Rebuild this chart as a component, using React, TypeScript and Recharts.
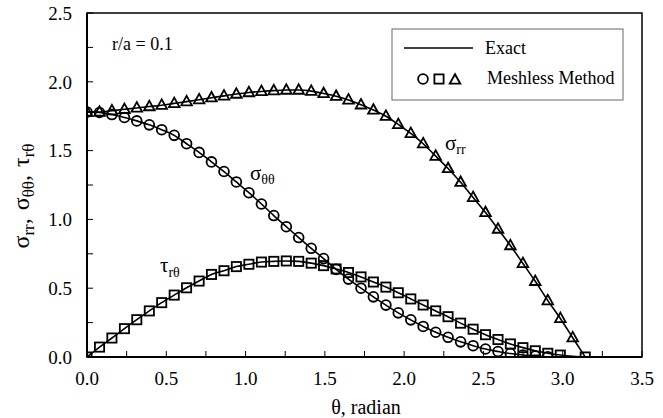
import React from 'react';
import { LineChart, Line, XAxis, YAxis, ReferenceArea, Customized } from 'recharts';

// theta, radian (41 stations from 0 to pi)
const theta = [
  0.0, 0.079, 0.157, 0.236, 0.314, 0.393, 0.471, 0.55, 0.628, 0.707, 0.785,
  0.864, 0.942, 1.021, 1.1, 1.178, 1.257, 1.335, 1.414, 1.492, 1.571,
  1.649, 1.728, 1.806, 1.885, 1.963, 2.042, 2.12, 2.199, 2.277, 2.356,
  2.435, 2.513, 2.592, 2.67, 2.749, 2.827, 2.906, 2.985, 3.063, 3.142,
];

// exact solution
const exactSrr = [
  1.78, 1.78, 1.79, 1.8, 1.81, 1.82, 1.83, 1.843, 1.856, 1.87, 1.884,
  1.898, 1.911, 1.922, 1.93, 1.936, 1.94, 1.94, 1.932, 1.915, 1.895,
  1.868, 1.833, 1.795, 1.75, 1.69, 1.625, 1.55, 1.46, 1.37, 1.27,
  1.16, 1.05, 0.93, 0.81, 0.68, 0.55, 0.41, 0.28, 0.14, 0.0,
];
const exactStt = [
  1.78, 1.777, 1.762, 1.741, 1.716, 1.687, 1.652, 1.611, 1.55, 1.487, 1.418,
  1.348, 1.272, 1.194, 1.112, 1.028, 0.947, 0.868, 0.79, 0.715, 0.637,
  0.566, 0.5, 0.437, 0.377, 0.321, 0.27, 0.222, 0.18, 0.143, 0.11,
  0.082, 0.058, 0.04, 0.025, 0.014, 0.007, 0.002, 0.0, 0.0, 0.0,
];
const exactTrt = [
  0.0, 0.072, 0.138, 0.206, 0.271, 0.335, 0.395, 0.45, 0.503, 0.552, 0.6,
  0.627, 0.657, 0.674, 0.69, 0.695, 0.698, 0.695, 0.682, 0.664, 0.64,
  0.614, 0.582, 0.545, 0.508, 0.467, 0.422, 0.378, 0.335, 0.293, 0.246,
  0.202, 0.162, 0.127, 0.095, 0.068, 0.045, 0.027, 0.014, 0.005, 0.0,
];

// meshless method (null = no marker drawn)
const meshSrr = [
  1.78, 1.78, 1.79, 1.8, 1.81, 1.82, 1.83, 1.843, 1.856, 1.87, 1.884,
  1.898, 1.911, 1.922, 1.93, 1.936, 1.94, 1.94, 1.932, 1.915, 1.895,
  1.868, 1.833, 1.795, 1.75, 1.69, 1.625, 1.55, 1.46, 1.37, 1.27,
  1.16, 1.05, 0.93, 0.81, 0.68, 0.55, 0.41, 0.28, 0.14, null,
];
const meshStt = [
  1.78, 1.777, 1.762, 1.741, 1.716, 1.687, 1.652, 1.611, 1.55, 1.487, 1.418,
  1.348, 1.272, 1.194, 1.112, 1.028, 0.947, 0.868, 0.79, 0.715, 0.637,
  0.566, 0.5, 0.437, 0.377, 0.321, 0.27, 0.222, 0.18, 0.143, 0.11,
  0.082, 0.058, 0.04, 0.025, 0.014, 0.007, 0.002, null, null, null,
];
const meshTrt = [
  0.0, 0.072, 0.138, 0.206, 0.271, 0.335, 0.395, 0.45, 0.503, 0.552, 0.6,
  0.627, 0.657, 0.674, 0.69, 0.695, 0.698, 0.695, 0.682, 0.664, 0.64,
  0.614, 0.582, 0.545, 0.508, 0.467, 0.422, 0.378, 0.335, 0.293, 0.246,
  0.202, 0.162, 0.127, 0.095, 0.068, 0.045, 0.027, 0.014, null, 0.0,
];

const xTicks = [0, 0.25, 0.5, 0.75, 1, 1.25, 1.5, 1.75, 2, 2.25, 2.5, 2.75, 3, 3.25, 3.5];
const yTicks = [0, 0.25, 0.5, 0.75, 1, 1.25, 1.5, 1.75, 2, 2.25, 2.5];

const data = theta.map((t, i) => ({
  theta: t,
  srr: exactSrr[i],
  stt: exactStt[i],
  trt: exactTrt[i],
  mSrr: meshSrr[i],
  mStt: meshStt[i],
  mTrt: meshTrt[i],
}));

const FONT = 'Liberation Serif, serif';
const INK = '#000';

const fmtTick = (v: number) => (Math.round(v * 4) % 2 === 0 ? v.toFixed(1) : '');

type Shape = 'circle' | 'square' | 'triangle';

function marker(shape: Shape, cx: number, cy: number, key?: string | number) {
  const common = { fill: 'none', stroke: INK, strokeWidth: 1.8 };
  if (shape === 'circle') return <circle key={key} cx={cx} cy={cy} r={4.9} {...common} />;
  if (shape === 'square') return <rect key={key} x={cx - 4.6} y={cy - 4.6} width={9.2} height={9.2} {...common} />;
  return (
    <polygon
      key={key}
      points={`${cx},${cy - 5.8} ${cx - 5.3},${cy + 3.7} ${cx + 5.3},${cy + 3.7}`}
      {...common}
    />
  );
}

const dotFor = (shape: Shape) => (p: any) => {
  if (p.value == null || p.cx == null || p.cy == null) return <g key={`n-${shape}-${p.index}`} />;
  return marker(shape, p.cx, p.cy, `${shape}-${p.index}`);
};

function Overlay() {
  return (
    <g style={{ fontFamily: FONT }} fill={INK}>
      {/* legend */}
      <rect x={392} y={29} width={231} height={71} fill="#fff" stroke="#666" strokeWidth={1} />
      <line x1={404} y1={48} x2={473} y2={48} stroke={INK} strokeWidth={1.6} />
      <text x={485} y={54} fontSize={18}>Exact</text>
      {marker('circle', 423, 79)}
      {marker('square', 439, 79)}
      {marker('triangle', 455, 80)}
      <text x={487} y={84} fontSize={18}>Meshless Method</text>

      <text x={112} y={50} fontSize={18}>r/a = 0.1</text>

      <text x={250} y={180} fontSize={21}>
        σ<tspan fontSize={14} dy={4}>θθ</tspan>
      </text>
      <text x={445} y={150} fontSize={21}>
        σ<tspan fontSize={14} dy={4}>rr</tspan>
      </text>
      <text x={160} y={272} fontSize={21}>
        τ<tspan fontSize={14} dy={5}>rθ</tspan>
      </text>

      <text x={366} y={414} fontSize={20} textAnchor="middle">θ, radian</text>

      <text transform="translate(29,196) rotate(-90)" fontSize={24} textAnchor="middle">
        σ<tspan fontSize={17} dy={5}>rr</tspan>
        <tspan dy={-5}>,</tspan>
        <tspan dx={8}>σ</tspan>
        <tspan fontSize={17} dy={5}>θθ</tspan>
        <tspan dy={-5}>,</tspan>
        <tspan dx={8}>τ</tspan>
        <tspan fontSize={17} dy={5}>rθ</tspan>
      </text>
    </g>
  );
}

export default function App() {
  const tickStyle = { fontSize: 19, fill: INK, fontFamily: FONT, style: { fontFamily: FONT } };
  return (
    <div style={{ position: 'absolute', left: 0, top: 0, width: 663, height: 418, background: '#fff', fontFamily: FONT }}>
      <LineChart width={663} height={418} data={data} margin={{ top: 13, right: 21, bottom: 31, left: 27 }} style={{ fontFamily: FONT }}>
        <XAxis
          dataKey="theta"
          type="number"
          domain={[0, 3.5]}
          ticks={xTicks}
          interval={0}
          tickFormatter={fmtTick}
          tick={tickStyle}
          tickSize={-6}
          tickMargin={21}
          height={30}
          axisLine={{ stroke: INK, strokeWidth: 2 }}
          tickLine={{ stroke: INK, strokeWidth: 1 }}
          allowDataOverflow
        />
        <YAxis
          type="number"
          domain={[0, 2.5]}
          ticks={yTicks}
          interval={0}
          tickFormatter={fmtTick}
          tick={tickStyle}
          tickSize={-6}
          tickMargin={21}
          width={60}
          axisLine={{ stroke: INK, strokeWidth: 2 }}
          tickLine={{ stroke: INK, strokeWidth: 1 }}
          allowDataOverflow
        />
        <ReferenceArea x1={0} x2={3.5} y1={0} y2={2.5} fill="none" stroke={INK} strokeWidth={1.5} />

        <Line type="monotone" dataKey="srr" stroke={INK} strokeWidth={1.6} dot={false} isAnimationActive={false} />
        <Line type="monotone" dataKey="stt" stroke={INK} strokeWidth={1.6} dot={false} isAnimationActive={false} />
        <Line type="monotone" dataKey="trt" stroke={INK} strokeWidth={1.6} dot={false} isAnimationActive={false} />

        <Line dataKey="mSrr" stroke="none" dot={dotFor('triangle')} activeDot={false} isAnimationActive={false} />
        <Line dataKey="mStt" stroke="none" dot={dotFor('circle')} activeDot={false} isAnimationActive={false} />
        <Line dataKey="mTrt" stroke="none" dot={dotFor('square')} activeDot={false} isAnimationActive={false} />

        <Customized component={Overlay} />
      </LineChart>
    </div>
  );
}
